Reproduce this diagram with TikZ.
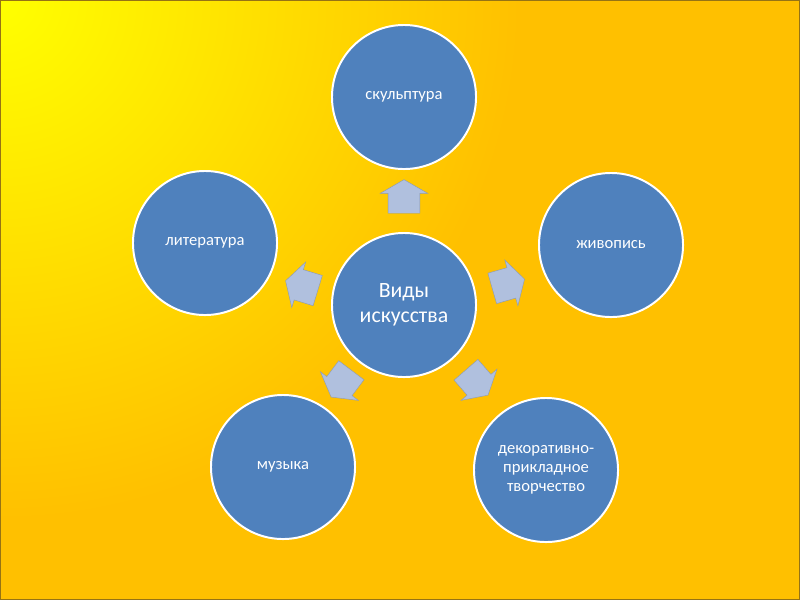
\documentclass[tikz,border=0pt]{standalone}
\usepackage{fontspec}
\setmainfont{Carlito}
\usetikzlibrary{shapes.arrows}
\definecolor{bgyellow}{RGB}{255,255,0}
\definecolor{bgorange}{RGB}{255,192,0}
\definecolor{circblue}{RGB}{79,129,189}
\definecolor{arrowblue}{RGB}{176,192,222}
\definecolor{framebrown}{RGB}{150,115,20}
\tikzset{
  kind/.style={circle, fill=circblue, draw=white, line width=1.4pt, minimum size=3.6cm,
    inner sep=2pt, align=center, text=white, font=\fontsize{11.8}{13.5}\selectfont},
  hub/.style={kind, font=\fontsize{15.5}{18}\selectfont},
  blockarrow/.style={single arrow, fill=arrowblue, draw=arrowblue!80!black, line width=0.3pt,
    minimum height=0.84cm, inner xsep=0pt, inner ysep=0.39cm, single arrow head extend=0.2cm,
    single arrow tip angle=120}
}
\begin{document}
\begin{tikzpicture}[x=0.025cm,y=-0.025cm]
  \useasboundingbox (0,0) rectangle (800,600);
  \begin{scope}
    \clip (0,0) rectangle (800,600);
    \fill[bgorange] (0,0) rectangle (800,600);
    \shade[inner color=bgyellow, outer color=bgorange] (0,0) circle (520);
  \end{scope}
  \draw[framebrown, line width=1.2pt] (0.6,0.6) rectangle (799.4,599.4);

  \node[hub] (art) at (404,305) {Виды\\искусства};
  \node[kind] (sculpt) at (404,97) {скульптура};
  \node[kind] (paint) at (611,245) {живопись};
  \node[kind] (deco) at (546,470) {декоративно-\\прикладное\\творчество};
  \node[kind] (music) at (283,467) {музыка};
  \node[kind] (lit) at (205,243) {литература};

  \node[blockarrow, rotate=90] (tosculpt) at (404,201) {};
  \node[blockarrow, rotate=16] (topaint) at (504,285) {};
  \node[blockarrow, rotate=-49] (todeco) at (474,379) {};
  \node[blockarrow, rotate=-127] (tomusic) at (344,380) {};
  \node[blockarrow, rotate=163] (tolit) at (306,287) {};
\end{tikzpicture}
\end{document}
